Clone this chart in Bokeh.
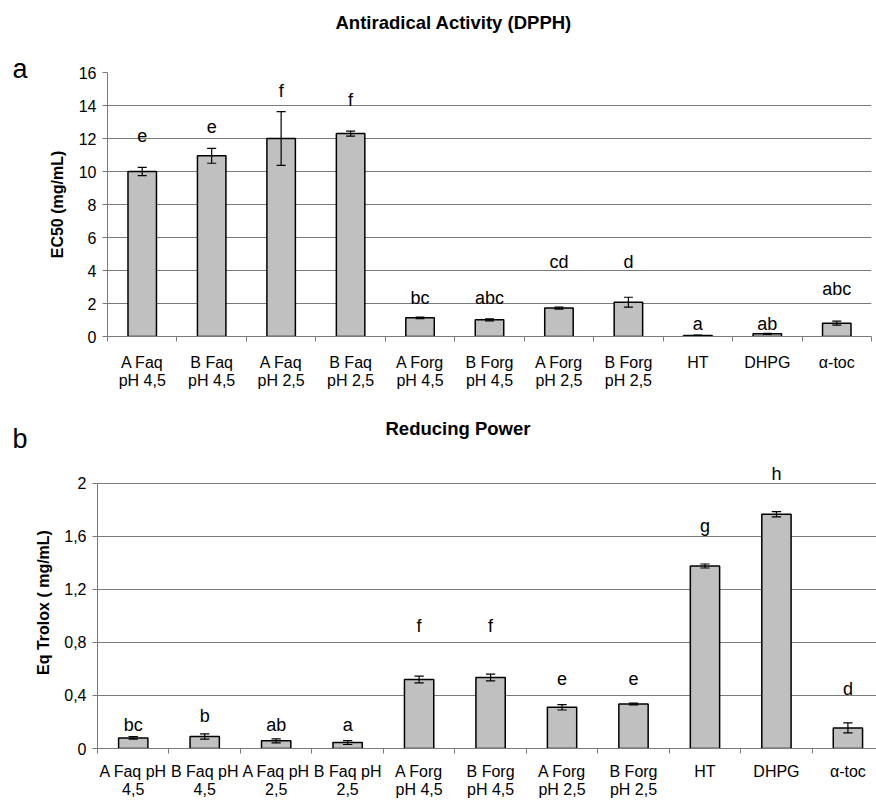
from bokeh.plotting import figure
from bokeh.models import Range1d, FixedTicker, ColumnDataSource, Title
from bokeh.layouts import row
from bokeh.core.properties import value
from bokeh.embed import file_html
from bokeh.resources import INLINE

# ---------------- data: panel a (DPPH) ----------------
dpph_categories = ["A Faq\npH 4,5", "B Faq\npH 4,5", "A Faq\npH 2,5", "B Faq\npH 2,5",
                   "A Forg\npH 4,5", "B Forg\npH 4,5", "A Forg\npH 2,5", "B Forg\npH 2,5",
                   "HT", "DHPG", "α-toc"]
dpph_values = [10.0, 10.95, 12.0, 12.3, 1.13, 1.01, 1.72, 2.08, 0.06, 0.16, 0.81]
dpph_errors = [0.25, 0.45, 1.63, 0.15, 0.05, 0.06, 0.06, 0.30, 0.03, 0.03, 0.12]
dpph_letters = ["e", "e", "f", "f", "bc", "abc", "cd", "d", "a", "ab", "abc"]
dpph_yticks = [0, 2, 4, 6, 8, 10, 12, 14, 16]
dpph_ytick_labels = ["0", "2", "4", "6", "8", "10", "12", "14", "16"]

# ---------------- data: panel b (Reducing power) ----------------
rp_categories = ["A Faq pH\n4,5", "B Faq pH\n4,5", "A Faq pH\n2,5", "B Faq pH\n2,5",
                 "A Forg\npH 4,5", "B Forg\npH 4,5", "A Forg\npH 2,5", "B Forg\npH 2,5",
                 "HT", "DHPG", "α-toc"]
rp_values = [0.08, 0.09, 0.058, 0.045, 0.52, 0.535, 0.31, 0.335, 1.375, 1.765, 0.155]
rp_errors = [0.01, 0.02, 0.015, 0.015, 0.025, 0.025, 0.02, 0.007, 0.015, 0.02, 0.038]
rp_letters = ["bc", "b", "ab", "a", "f", "f", "e", "e", "g", "h", "d"]
rp_yticks = [0, 0.4, 0.8, 1.2, 1.6, 2.0]
rp_ytick_labels = ["0", "0,4", "0,8", "1,2", "1,6", "2"]

# ---------------- layout constants (placement of letters) ----
dpph_letter_pos = [12.18, 12.73, 14.9, 14.35, 2.32, 2.32, 4.5, 4.5, 0.77, 0.77, 2.89]
rp_letter_pos = [0.177, 0.247, 0.177, 0.177, 0.926, 0.926, 0.524, 0.524, 1.675, 2.071, 0.448]

FONT = "Liberation Sans"
GRID = "#7a7a7a"
STRIP = 30


def make_panel(cats, vals, errs, letters, letter_pos, yticks, ytick_labels,
               ylabel, title, width, height, x_end, y_end, borders,
               x_standoff, y_label_standoff, title_offset, title_gap):
    n = len(cats)
    xs = [i + 0.5 for i in range(n)]
    p = figure(width=width, height=height, output_backend="svg", toolbar_location=None,
               x_range=Range1d(0, x_end), y_range=Range1d(0, y_end),
               min_border_left=borders[0], min_border_right=borders[1],
               min_border_top=borders[2], min_border_bottom=borders[3])
    p.frame_align = False
    p.outline_line_color = None
    p.background_fill_color = "white"
    p.xgrid.visible = False
    p.ygrid.grid_line_color = GRID
    p.ygrid.grid_line_width = 1

    lo = [v - e for v, e in zip(vals, errs)]
    hi = [v + e for v, e in zip(vals, errs)]
    src = ColumnDataSource(dict(x=xs, top=vals, lo=lo, hi=hi, lab=letters, ly=letter_pos))
    p.vbar(x="x", top="top", bottom=0, width=0.41, source=src,
           fill_color="#c0c0c0", line_color="black", line_width=1.5)
    p.segment(x0="x", x1="x", y0="lo", y1="hi", source=src, line_color="black", line_width=1.2)
    cap = 0.065
    p.segment(x0=[x - cap for x in xs], x1=[x + cap for x in xs], y0=hi, y1=hi,
              line_color="black", line_width=1.2)
    p.segment(x0=[x - cap for x in xs], x1=[x + cap for x in xs], y0=lo, y1=lo,
              line_color="black", line_width=1.2)
    p.text(x="x", y="ly", text="lab", source=src, text_align="center", text_baseline="alphabetic",
           text_font=value(FONT), text_font_size="18px", text_color="black")

    xa = p.xaxis[0]
    xa.ticker = FixedTicker(ticks=xs, minor_ticks=list(range(n + 1)))
    xa.major_label_overrides = {x: c for x, c in zip(xs, cats)}
    xa.major_tick_out = 0
    xa.major_tick_in = 0
    xa.minor_tick_out = 5
    xa.minor_tick_in = 0
    xa.minor_tick_line_color = GRID
    xa.axis_line_color = GRID
    xa.major_label_standoff = x_standoff
    xa.major_label_text_font = FONT
    xa.major_label_text_font_size = "16px"
    xa.major_label_text_color = "black"
    xa.major_label_text_line_height = 1.1

    ya = p.yaxis[0]
    ya.ticker = FixedTicker(ticks=yticks)
    ya.major_label_overrides = {t: l for t, l in zip(yticks, ytick_labels)}
    ya.bounds = (yticks[0], yticks[-1])
    ya.major_tick_out = 5
    ya.major_tick_in = 0
    ya.minor_tick_out = 0
    ya.minor_tick_in = 0
    ya.major_tick_line_color = GRID
    ya.axis_line_color = GRID
    ya.major_label_standoff = 6
    ya.major_label_text_font = FONT
    ya.major_label_text_font_size = "16px"
    ya.major_label_text_color = "black"
    ya.axis_label = ylabel
    ya.axis_label_text_font = FONT
    ya.axis_label_text_font_size = "16px"
    ya.axis_label_text_font_style = "bold"
    ya.axis_label_text_color = "black"
    ya.axis_label_standoff = y_label_standoff

    # empty spacer between frame and title (pushes the title upward)
    p.add_layout(Title(text=" ", text_font_size="1px", standoff=title_gap), "above")
    p.title.text = title
    p.title.align = "left"
    p.title.vertical_align = "bottom"
    p.title.offset = title_offset
    p.title.standoff = 0
    p.title.text_font = FONT
    p.title.text_font_size = "18.5px"
    p.title.text_font_style = "bold"
    p.title.text_color = "black"
    return p


def make_strip(letter, height, baseline_from_top):
    s = figure(width=STRIP, height=height, output_backend="svg", toolbar_location=None,
               x_range=Range1d(0, STRIP), y_range=Range1d(0, height),
               x_axis_type=None, y_axis_type=None, min_border=0)
    s.frame_align = False
    s.outline_line_color = None
    s.xgrid.visible = False
    s.ygrid.visible = False
    s.text(x=[12], y=[height - baseline_from_top], text=[letter], text_align="left",
           text_baseline="alphabetic", text_font=value(FONT), text_font_size="27px",
           text_color="black")
    return s


pa = make_panel(dpph_categories, dpph_values, dpph_errors, dpph_letters, dpph_letter_pos,
                dpph_yticks, dpph_ytick_labels, "EC50 (mg/mL)", "Antiradical Activity (DPPH)",
                width=876 - STRIP, height=400, x_end=11, y_end=16,
                borders=(107 - STRIP, 5, 72, 64), x_standoff=12, y_label_standoff=10,
                title_offset=228, title_gap=37)
sa = make_strip("a", 400, 68)

pb = make_panel(rp_categories, rp_values, rp_errors, rp_letters, rp_letter_pos,
                rp_yticks, rp_ytick_labels, "Eq Trolox ( mg/mL)", "Reducing Power",
                width=876 - STRIP, height=401, x_end=10.9, y_end=2.2,
                borders=(97 - STRIP, 0, 56, 53), x_standoff=9, y_label_standoff=9,
                title_offset=288, title_gap=15)
sb = make_strip("b", 401, 38)

open("out.html", "w").write(file_html([row(sa, pa, spacing=0), row(sb, pb, spacing=0)], INLINE))
